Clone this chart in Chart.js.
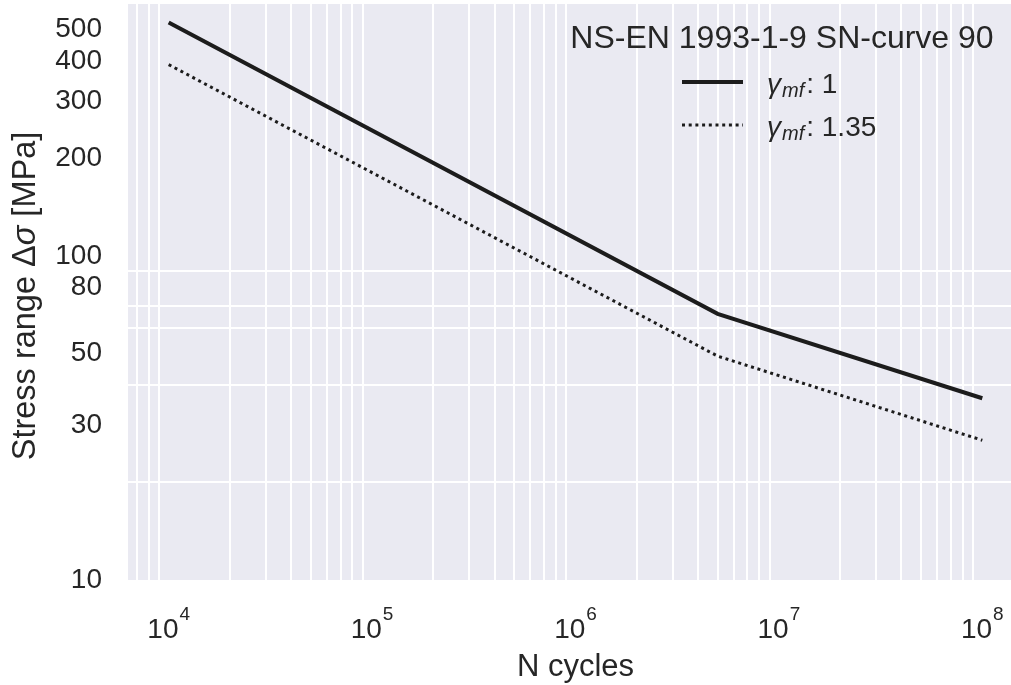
<!DOCTYPE html>
<html>
<head>
<meta charset="utf-8">
<script src="https://cdn.jsdelivr.net/npm/chart.js@4"></script>
<style>
  html, body { margin: 0; padding: 0; background: #fff; overflow: hidden; }
  canvas { display: block; }
</style>
</head>
<body>
<!-- the axes run a little past the right edge of the 1011px picture -->
<canvas id="snChart" width="1023" height="685"></canvas>
<script>
// S-N curve values (log-log)
const cycles = [1e4, 5e6, 1e8];
const stressGamma1 = [526, 66.3, 36.4];
const stressGamma135 = [390, 49.1, 27.0];
const gammaValues = ['1', '1.35'];

const legendTitle = 'NS-EN 1993-1-9 SN-curve 90';
const xTitle = 'N cycles';
const yTitleParts = ['Stress range \u0394', '\u03c3', ' [MPa]'];

// tick labels and grid positions
const yLabelTicks = [10, 30, 50, 80, 100, 200, 300, 400, 500];
const yGridTicks = [20, 40, 60, 70, 90];
const xExponents = [4, 5, 6, 7, 8];
const xMinorTicks = [
  7e3, 8e3, 9e3,
  2e4, 3e4, 4e4, 5e4, 6e4, 7e4, 8e4, 9e4,
  2e5, 3e5, 4e5, 5e5, 6e5, 7e5, 8e5, 9e5,
  2e6, 3e6, 4e6, 5e6, 6e6, 7e6, 8e6, 9e6,
  2e7, 3e7, 4e7, 5e7, 6e7, 7e7, 8e7, 9e7
];

const FONT = '"Liberation Sans", Arial, Helvetica, sans-serif';
const TEXT = '#262626';
const INK = '#1c1c1c';
const CLEAR = 'rgba(0,0,0,0)';

Chart.defaults.font.family = FONT;
Chart.defaults.color = TEXT;

const plotBackground = {
  id: 'plotBackground',
  beforeDraw(chart) {
    const { ctx, chartArea: a } = chart;
    ctx.save();
    ctx.fillStyle = '#eaeaf2';
    ctx.fillRect(a.left, a.top, a.right - a.left, a.bottom - a.top);
    ctx.restore();
  }
};

// 10^n labels under the x axis, with a raised exponent
const powerLabels = {
  id: 'powerLabels',
  afterDraw(chart) {
    const { ctx, chartArea: a } = chart;
    const xs = chart.scales.x;
    ctx.save();
    ctx.fillStyle = TEXT;
    ctx.textAlign = 'left';
    ctx.textBaseline = 'alphabetic';
    xExponents.forEach(e => {
      const px = xs.getPixelForValue(Math.pow(10, e));
      ctx.font = `28px ${FONT}`;
      const wBase = ctx.measureText('10').width;
      ctx.font = `19px ${FONT}`;
      const wExp = ctx.measureText(String(e)).width;
      const start = px - (wBase + 1 + wExp) / 2;
      ctx.font = `28px ${FONT}`;
      ctx.fillText('10', start, a.bottom + 58);
      ctx.font = `19px ${FONT}`;
      ctx.fillText(String(e), start + wBase + 1, a.bottom + 40);
    });
    ctx.restore();
  }
};

// y title with an italic sigma
const yTitle = {
  id: 'yTitle',
  afterDraw(chart) {
    const { ctx, chartArea: a } = chart;
    const fonts = [`32.5px ${FONT}`, `italic 32.5px ${FONT}`, `32.5px ${FONT}`];
    ctx.save();
    let total = 0;
    const widths = yTitleParts.map((t, i) => {
      ctx.font = fonts[i];
      const w = ctx.measureText(t).width;
      total += w;
      return w;
    });
    ctx.translate(35, (a.top + a.bottom) / 2 + 4);
    ctx.rotate(-Math.PI / 2);
    ctx.fillStyle = TEXT;
    ctx.textAlign = 'left';
    ctx.textBaseline = 'alphabetic';
    let x = -total / 2;
    yTitleParts.forEach((t, i) => {
      ctx.font = fonts[i];
      ctx.fillText(t, x, 0);
      x += widths[i];
    });
    ctx.restore();
  }
};

// legend drawn by hand: title, line samples and gamma_mf labels
const sampleLegend = {
  id: 'sampleLegend',
  afterDraw(chart) {
    const { ctx } = chart;
    ctx.save();
    ctx.fillStyle = TEXT;
    ctx.textBaseline = 'alphabetic';
    ctx.textAlign = 'center';
    ctx.font = `32px ${FONT}`;
    ctx.fillText(legendTitle, 782, 48);

    chart.data.datasets.forEach((ds, i) => {
      const yLine = 82 + i * 43;
      const base = 93 + i * 43;
      ctx.save();
      ctx.strokeStyle = ds.borderColor;
      ctx.lineWidth = ds.borderWidth;
      ctx.setLineDash(ds.borderDash || []);
      ctx.beginPath();
      ctx.moveTo(682, yLine);
      ctx.lineTo(743, yLine);
      ctx.stroke();
      ctx.restore();

      ctx.textAlign = 'left';
      let x = 767;
      ctx.font = `italic 28px ${FONT}`;
      ctx.fillText('\u03b3', x, base);
      x += ctx.measureText('\u03b3').width + 1;
      ctx.font = `italic 20px ${FONT}`;
      ctx.fillText('mf', x, base + 4);
      x += ctx.measureText('mf').width + 2;
      ctx.font = `28px ${FONT}`;
      ctx.fillText(': ' + gammaValues[i], x, base);
    });
    ctx.restore();
  }
};

const toPoints = ys => cycles.map((n, i) => ({ x: n, y: ys[i] }));

new Chart(document.getElementById('snChart'), {
  type: 'line',
  data: {
    datasets: [
      {
        label: 'gamma_mf: ' + gammaValues[0],
        data: toPoints(stressGamma1),
        borderColor: INK,
        borderWidth: 4,
        pointRadius: 0,
        tension: 0,
        fill: false
      },
      {
        label: 'gamma_mf: ' + gammaValues[1],
        data: toPoints(stressGamma135),
        borderColor: INK,
        borderWidth: 3,
        borderDash: [3, 3.7],
        pointRadius: 0,
        tension: 0,
        fill: false
      }
    ]
  },
  options: {
    responsive: false,
    animation: false,
    devicePixelRatio: 1,
    layout: { padding: { top: 4, right: 0, bottom: 0, left: 0 } },
    plugins: {
      legend: { display: false },
      tooltip: { enabled: false }
    },
    scales: {
      x: {
        type: 'logarithmic',
        min: 6310,
        max: 1.585e8,
        border: { display: false },
        grid: {
          drawTicks: false,
          lineWidth: 2,
          color: ctx => (ctx.tick && xMinorTicks.includes(ctx.tick.value)) ? '#ffffff' : CLEAR
        },
        ticks: { display: false },
        afterBuildTicks: scale => {
          scale.ticks = xMinorTicks.concat(xExponents.map(e => Math.pow(10, e)))
            .sort((a, b) => a - b)
            .map(v => ({ value: v }));
        },
        afterFit: scale => {
          scale.height = 105;
          scale.paddingLeft = 0;
          scale.paddingRight = 0;
        },
        title: {
          display: true,
          text: xTitle,
          color: TEXT,
          font: { size: 31, lineHeight: 1 },
          padding: { top: 0, bottom: 2 }
        }
      },
      y: {
        type: 'logarithmic',
        min: 10,
        max: 600,
        border: { display: false },
        grid: {
          drawTicks: false,
          lineWidth: 2,
          color: ctx => (ctx.tick && yGridTicks.includes(ctx.tick.value)) ? '#ffffff' : CLEAR
        },
        ticks: {
          autoSkip: false,
          padding: 26,
          color: TEXT,
          font: { size: 28 },
          callback: v => yLabelTicks.includes(v) ? String(v) : ''
        },
        afterBuildTicks: scale => {
          scale.ticks = yLabelTicks.concat(yGridTicks)
            .sort((a, b) => a - b)
            .map(v => ({ value: v }));
        },
        afterFit: scale => {
          scale.width = 128;
          scale.paddingTop = 0;
          scale.paddingBottom = 0;
        }
      }
    }
  },
  plugins: [plotBackground, powerLabels, yTitle, sampleLegend]
});
</script>
</body>
</html>
